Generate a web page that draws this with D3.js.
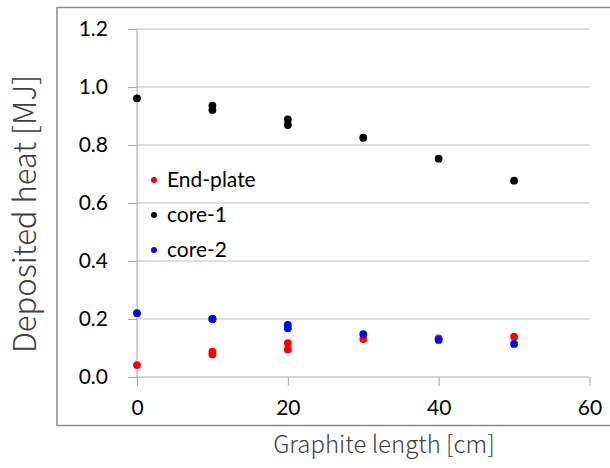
<!DOCTYPE html>
<html>
<head>
<meta charset="utf-8">
<script src="https://cdn.jsdelivr.net/npm/d3@7"></script>
<style>
  html, body { margin: 0; padding: 0; background: #fff; }
  svg { display: block; }
</style>
</head>
<body>
<svg id="chart" width="610" height="468"></svg>
<script>
// ---- data ----
const seriesNames = ["End-plate", "core-1", "core-2"];
const seriesColors = ["#ff0000", "#000000", "#0000ff"];
const lengths = [0, 10, 10, 20, 20, 30, 40, 50];
const endPlate = [0.041, 0.087, 0.078, 0.117, 0.095, 0.131, 0.133, 0.139];
const core1 = [0.961, 0.936, 0.921, 0.888, 0.869, 0.825, 0.753, 0.677];
const core2 = [0.220, 0.200, 0.200, 0.180, 0.168, 0.148, 0.128, 0.114];
const xTicks = [0, 20, 40, 60];
const yTicks = [0.0, 0.2, 0.4, 0.6, 0.8, 1.0, 1.2];
const xTitle = "Graphite length [cm]";
const yTitle = "Deposited heat [MJ]";

const seriesValues = [endPlate, core1, core2];

const svg = d3.select("#chart");

// outer frame
svg.append("rect")
  .attr("x", 57).attr("y", 7.5)
  .attr("width", 560).attr("height", 418)
  .attr("fill", "none").attr("stroke", "#8c8c8c").attr("stroke-width", 1.5);

const x = d3.scaleLinear().domain([0, 60]).range([137, 589.5]);
const y = d3.scaleLinear().domain([0, 1.2]).range([377, 29]);

// horizontal gridlines
svg.append("g")
  .selectAll("line")
  .data(yTicks.filter(d => d > 0))
  .join("line")
  .attr("x1", x(0)).attr("x2", x(60))
  .attr("y1", d => y(d)).attr("y2", d => y(d))
  .attr("stroke", "#bfbfbf").attr("stroke-width", 1);

// y axis
const yAxis = svg.append("g")
  .attr("transform", `translate(${x(0)},0)`)
  .call(d3.axisLeft(y).tickValues(yTicks).tickFormat(d3.format(".1f")).tickSize(9).tickPadding(20));
yAxis.select(".domain").attr("stroke", "#a6a6a6").attr("d", `M0,${y(1.2)}V${y(0)}`);
yAxis.selectAll(".tick line").attr("stroke", "#a6a6a6");
yAxis.selectAll(".tick text")
  .attr("font-family", "Lato, sans-serif").attr("font-size", 21).attr("fill", "#000");

// x axis
const xAxis = svg.append("g")
  .attr("transform", `translate(0,${y(0)})`)
  .call(d3.axisBottom(x).tickValues(xTicks).tickFormat(d3.format("d")).tickSize(9).tickPadding(14));
xAxis.select(".domain").attr("stroke", "#a6a6a6").attr("d", `M${x(0)},0H${x(60)}`);
xAxis.selectAll(".tick line").attr("stroke", "#a6a6a6");
xAxis.selectAll(".tick text")
  .attr("font-family", "Lato, sans-serif").attr("font-size", 21).attr("fill", "#000");

// points
seriesValues.forEach((vals, si) => {
  svg.append("g")
    .selectAll("circle")
    .data(vals.map((v, i) => ({ x: lengths[i], y: v })))
    .join("circle")
    .attr("cx", d => x(d.x)).attr("cy", d => y(d.y))
    .attr("r", 3.9)
    .attr("fill", seriesColors[si]);
});

// legend
const legend = svg.append("g");
seriesNames.forEach((name, i) => {
  const ly = 180 + i * 35;
  legend.append("circle").attr("cx", 154).attr("cy", ly).attr("r", 3).attr("fill", seriesColors[i]);
  legend.append("text").attr("x", 167).attr("y", ly).attr("dy", "0.35em")
    .attr("font-family", "Lato, sans-serif").attr("font-size", 21).attr("fill", "#000")
    .text(name);
});

// axis titles
svg.append("text")
  .attr("x", 384).attr("y", 453)
  .attr("text-anchor", "middle")
  .attr("font-family", "'Noto Sans CJK JP', sans-serif").attr("font-weight", 300)
  .attr("font-size", 24).attr("fill", "#404040")
  .text(xTitle);

svg.append("text")
  .attr("transform", `translate(36,${214}) rotate(-90)`)
  .attr("text-anchor", "middle")
  .attr("font-family", "'Noto Sans CJK JP', sans-serif").attr("font-weight", 300)
  .attr("font-size", 31).attr("fill", "#404040")
  .text(yTitle);
</script>
</body>
</html>
